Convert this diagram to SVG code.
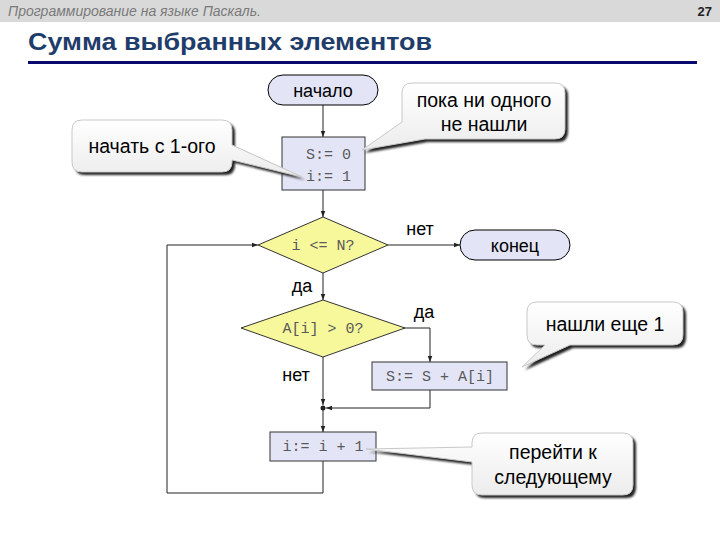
<svg xmlns="http://www.w3.org/2000/svg" width="720" height="540" viewBox="0 0 720 540">
<style>
.lbl{font-family:"Liberation Sans",Arial,sans-serif;font-size:18px;fill:#000;text-anchor:middle}
.call{font-family:"Liberation Sans",Arial,sans-serif;font-size:19.5px;fill:#000;text-anchor:middle}
.code{font-family:"Liberation Mono","Courier New",monospace;font-size:15px;fill:#5a5a5a;text-anchor:middle}
.term{fill:#e4e4f7;stroke:#000;stroke-width:1}
.proc{fill:#e4e4f7;stroke:#333;stroke-width:1}
.dec{fill:#f7f79c;stroke:#333;stroke-width:1}
.conn{fill:none;stroke:#222;stroke-width:1}
.bub{fill:url(#bg);stroke:#c8c8c8;stroke-width:1}
.shd{fill:#222;filter:url(#bl)}
</style>
<defs>
<marker id="ar" viewBox="0 0 8 8" refX="8" refY="4" markerWidth="6" markerHeight="6" orient="auto" markerUnits="userSpaceOnUse">
<path d="M0,1 L8,4 L0,7 Z" fill="#222"/>
</marker>
<linearGradient id="bg" x1="0" y1="0" x2="0" y2="1">
<stop offset="0" stop-color="#ffffff"/>
<stop offset="1" stop-color="#ececec"/>
</linearGradient>
<filter id="bl" x="-10%" y="-10%" width="130%" height="130%"><feGaussianBlur stdDeviation="1"/></filter>
</defs>

<g id="header">
<rect x="0" y="0" width="720" height="22" fill="#d9d9d9"/>
<text x="8" y="16" font-family="Liberation Sans,Arial,sans-serif" font-size="14" font-style="italic" fill="#7a7a7a">Программирование на языке Паскаль.</text>
<text x="712" y="16" font-family="Liberation Sans,Arial,sans-serif" font-size="13" font-weight="bold" fill="#222" text-anchor="end">27</text>
</g>
<g id="title">
<text x="28" y="50" font-family="Liberation Sans,Arial,sans-serif" font-size="24" font-weight="bold" fill="#1f3d6b" textLength="404" lengthAdjust="spacingAndGlyphs">Сумма выбранных элементов</text>
<rect x="28" y="61" width="669" height="3" fill="#0a0a6e"/>
</g>

<g id="connectors">
<path class="conn" d="M323,105 V137" marker-end="url(#ar)"/>
<path class="conn" d="M323,190 V217" marker-end="url(#ar)"/>
<path class="conn" d="M388,245 H460" marker-end="url(#ar)"/>
<path class="conn" d="M323,273 V300" marker-end="url(#ar)"/>
<path class="conn" d="M397,328 H430 V362" marker-end="url(#ar)"/>
<path class="conn" d="M430,390 V408 H326" marker-end="url(#ar)"/>
<path class="conn" d="M323,357 V405" marker-end="url(#ar)"/>
<path class="conn" d="M323,408 V432" marker-end="url(#ar)"/>
<path class="conn" d="M323,461 V493 H167 V245 H258" marker-end="url(#ar)"/>
<circle cx="323" cy="408" r="2.5" fill="#222"/>
<text class="lbl" x="420" y="235">нет</text>
<text class="lbl" x="302" y="292">да</text>
<text class="lbl" x="424" y="318">да</text>
<text class="lbl" x="296" y="381">нет</text>
</g>

<g id="start">
<rect class="term" x="268" y="75" width="110" height="30" rx="15"/>
<text class="lbl" x="323" y="97">начало</text>
</g>
<g id="init">
<rect class="proc" x="282" y="137" width="83" height="53"/>
<text class="code" x="351" y="159" style="text-anchor:end">S:= 0</text>
<text class="code" x="351" y="181" style="text-anchor:end">i:= 1</text>
</g>
<g id="cond1">
<polygon class="dec" points="323,217 388,245 323,273 258,245"/>
<text class="code" x="323" y="250">i &lt;= N?</text>
</g>
<g id="end">
<rect class="term" x="460" y="230" width="110" height="30" rx="15"/>
<text class="lbl" x="515" y="252">конец</text>
</g>
<g id="cond2">
<polygon class="dec" points="323,300 405,328 323,357 241,328"/>
<text class="code" x="323" y="333">A[i] &gt; 0?</text>
</g>
<g id="sum">
<rect class="proc" x="372" y="362" width="135" height="28"/>
<text class="code" x="440" y="381">S:= S + A[i]</text>
</g>
<g id="inc">
<rect class="proc" x="270" y="432" width="106" height="29"/>
<text class="code" x="323" y="451">i:= i + 1</text>
</g>

<g id="note1">
<path class="shd" transform="translate(3,3)" d="M82,120 H222 Q232,120 232,130 V145 L302,177 L232,160 V162 Q232,172 222,172 H82 Q72,172 72,162 V130 Q72,120 82,120 Z"/>
<path class="bub" d="M82,120 H222 Q232,120 232,130 V145 L302,177 L232,160 V162 Q232,172 222,172 H82 Q72,172 72,162 V130 Q72,120 82,120 Z"/>
<text class="call" x="152" y="153">начать с 1-ого</text>
</g>
<g id="note2">
<path class="shd" transform="translate(3,3)" d="M412,83 H555 Q565,83 565,93 V129 Q565,139 555,139 H425 L362,150 L402,122 V93 Q402,83 412,83 Z"/>
<path class="bub" d="M412,83 H555 Q565,83 565,93 V129 Q565,139 555,139 H425 L362,150 L402,122 V93 Q402,83 412,83 Z"/>
<text class="call" x="484" y="107">пока ни одного</text>
<text class="call" x="484" y="131">не нашли</text>
</g>
<g id="note3">
<path class="shd" transform="translate(3,3)" d="M537,302 H673 Q683,302 683,312 V335 Q683,345 673,345 H570 L522,367 L545,345 H537 Q527,345 527,335 V312 Q527,302 537,302 Z"/>
<path class="bub" d="M537,302 H673 Q683,302 683,312 V335 Q683,345 673,345 H570 L522,367 L545,345 H537 Q527,345 527,335 V312 Q527,302 537,302 Z"/>
<text class="call" x="605" y="331">нашли еще 1</text>
</g>
<g id="note4">
<path class="shd" transform="translate(3,3)" d="M482,433 H623 Q633,433 633,443 V485 Q633,495 623,495 H482 Q472,495 472,485 V462 L366,449 L472,447 V443 Q472,433 482,433 Z"/>
<path class="bub" d="M482,433 H623 Q633,433 633,443 V485 Q633,495 623,495 H482 Q472,495 472,485 V462 L366,449 L472,447 V443 Q472,433 482,433 Z"/>
<text class="call" x="553" y="459">перейти к</text>
<text class="call" x="553" y="484">следующему</text>
</g>
</svg>
